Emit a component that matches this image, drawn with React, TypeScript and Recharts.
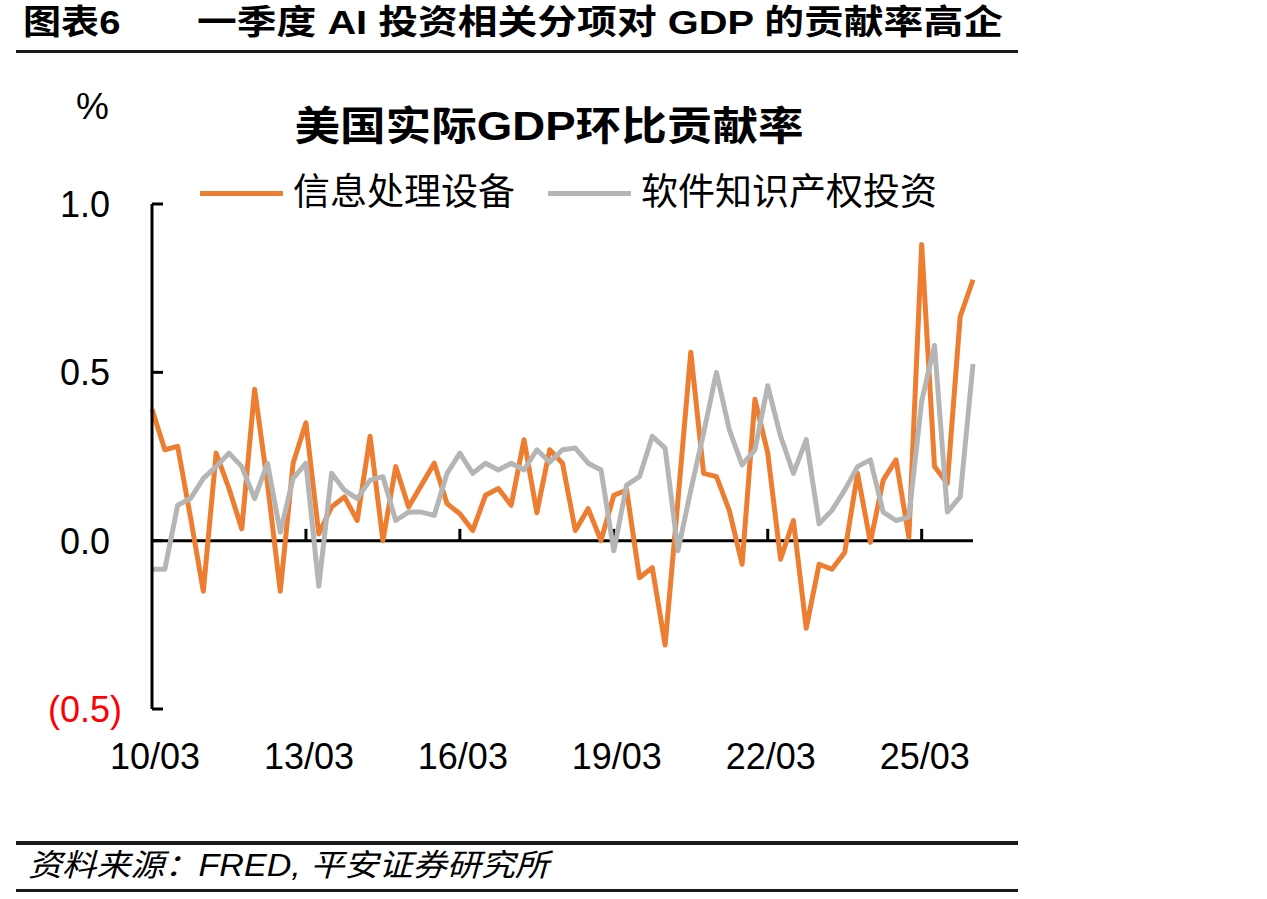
import { LineChart, Line, XAxis, YAxis, ReferenceLine, Legend } from 'recharts'

// quarterly, 2010Q1 .. 2026Q1
const quarters = [
  '10/03', '10/06', '10/09', '10/12', '11/03', '11/06', '11/09', '11/12',
  '12/03', '12/06', '12/09', '12/12', '13/03', '13/06', '13/09', '13/12',
  '14/03', '14/06', '14/09', '14/12', '15/03', '15/06', '15/09', '15/12',
  '16/03', '16/06', '16/09', '16/12', '17/03', '17/06', '17/09', '17/12',
  '18/03', '18/06', '18/09', '18/12', '19/03', '19/06', '19/09', '19/12',
  '20/03', '20/06', '20/09', '20/12', '21/03', '21/06', '21/09', '21/12',
  '22/03', '22/06', '22/09', '22/12', '23/03', '23/06', '23/09', '23/12',
  '24/03', '24/06', '24/09', '24/12', '25/03', '25/06', '25/09', '25/12',
  '26/03',
]

const infoEquipment = [
  0.39, 0.27, 0.28, 0.07, -0.15, 0.26, 0.155, 0.035,
  0.45, 0.17, -0.15, 0.23, 0.35, 0.02, 0.1, 0.13,
  0.06, 0.31, 0.0, 0.22, 0.1, 0.165, 0.23, 0.11,
  0.08, 0.03, 0.135, 0.155, 0.105, 0.3, 0.083, 0.27,
  0.23, 0.03, 0.095, 0.0, 0.135, 0.15, -0.11, -0.08,
  -0.31, 0.12, 0.56, 0.2, 0.19, 0.09, -0.07, 0.42,
  0.26, -0.055, 0.06, -0.26, -0.07, -0.085, -0.035, 0.2,
  -0.005, 0.18, 0.24, 0.01, 0.88, 0.22, 0.17, 0.665,
  0.775,
]

const softwareIP = [
  -0.085, -0.085, 0.105, 0.125, 0.185, 0.22, 0.26, 0.22,
  0.125, 0.23, 0.025, 0.185, 0.23, -0.135, 0.2, 0.15,
  0.125, 0.18, 0.19, 0.06, 0.085, 0.085, 0.075, 0.2,
  0.26, 0.2, 0.23, 0.21, 0.23, 0.21, 0.27, 0.233,
  0.27, 0.275, 0.23, 0.21, -0.03, 0.165, 0.19, 0.31,
  0.275, -0.03, 0.15, 0.32, 0.5, 0.33, 0.225, 0.27,
  0.46, 0.31, 0.2, 0.3, 0.05, 0.09, 0.15, 0.22,
  0.24, 0.085, 0.06, 0.07, 0.415, 0.58, 0.085, 0.13,
  0.525,
]

const yTicks = [-0.5, 0, 0.5, 1.0]
const xTickMarks = ['13/03', '16/03', '19/03', '22/03', '25/03']
const seriesNames = ['信息处理设备', '软件知识产权投资']
const seriesColors = ['#ED7D31', '#B5B5B5']

const figureLabel = '图表6'
const figureTitle = '一季度 AI 投资相关分项对 GDP 的贡献率高企'
const chartTitle = '美国实际GDP环比贡献率'
const unitLabel = '%'
const sourceNote = '资料来源：FRED, 平安证券研究所'

const FONT = "'Liberation Sans', 'Noto Sans CJK SC', sans-serif"

const data = quarters.map((q, i) => ({
  q,
  info: infoEquipment[i],
  soft: softwareIP[i],
}))

function YTick({ x, y, payload }: any) {
  const v = payload.value as number
  const neg = v < 0
  return (
    <g>
      <line x1={x} y1={y} x2={x + 11} y2={y} stroke="#000" strokeWidth={3} />
      <text
        x={neg ? x - 30 : x - 42}
        y={y}
        dy={13}
        textAnchor="end"
        fill={neg ? '#FF0000' : '#000'}
        fontSize={36}
        fontFamily={FONT}
      >
        {neg ? `(${Math.abs(v).toFixed(1)})` : v.toFixed(1)}
      </text>
    </g>
  )
}

function XTick({ x, y, payload }: any) {
  return (
    <text x={x + 3} y={y} dy={60} textAnchor="middle" fill="#000" fontSize={36} fontFamily={FONT}>
      {payload.value}
    </text>
  )
}

function LegendContent() {
  return (
    <div style={{ display: 'flex', alignItems: 'center', fontFamily: FONT, fontSize: 37, lineHeight: '42px' }}>
      {seriesNames.map((name, i) => (
        <div key={name} style={{ display: 'flex', alignItems: 'center', marginRight: 33 }}>
          <div style={{ width: 83, height: 5, background: seriesColors[i] }} />
          <span style={{ marginLeft: 10, whiteSpace: 'nowrap' }}>{name}</span>
        </div>
      ))}
    </div>
  )
}

const rule = (top: number, h: number) => (
  <div style={{ position: 'absolute', left: 16, width: 1002, top, height: h, background: '#1a1a1a' }} />
)

export default function App() {
  return (
    <div style={{ position: 'absolute', left: 0, top: 0, width: 1267, height: 899, background: '#fff', fontFamily: FONT, color: '#000' }}>
      <div style={{ position: 'absolute', left: 23, top: 2, fontSize: 34, fontWeight: 700, lineHeight: '40px', whiteSpace: 'nowrap', transform: 'scaleX(1.12)', transformOrigin: 'left center' }}>
        {figureLabel}
      </div>
      <div style={{ position: 'absolute', left: 197, top: 2, fontSize: 34, fontWeight: 700, lineHeight: '40px', whiteSpace: 'nowrap', transform: 'scaleX(1.17)', transformOrigin: 'left center' }}>
        {figureTitle}
      </div>
      {rule(50, 3)}

      <div style={{ position: 'absolute', left: 76, top: 86, fontSize: 37, lineHeight: '42px' }}>{unitLabel}</div>
      <div style={{ position: 'absolute', left: 549, top: 102, fontSize: 40, fontWeight: 700, lineHeight: '48px', whiteSpace: 'nowrap', transform: 'translateX(-50%) scaleX(1.14)', transformOrigin: 'center center' }}>
        {chartTitle}
      </div>

      <div style={{ position: 'absolute', left: 0, top: 0 }}>
        <LineChart width={1000} height={800} data={data} margin={{ top: 204, right: 27, bottom: 31, left: 0 }}>
          <XAxis
            dataKey="q"
            interval={11}
            tickSize={0}
            tickMargin={0}
            axisLine={false}
            tickLine={false}
            height={60}
            tick={<XTick />}
          />
          <YAxis
            domain={[-0.5, 1]}
            ticks={yTicks}
            width={152}
            tickSize={0}
            tickMargin={0}
            tickLine={false}
            axisLine={{ stroke: '#000', strokeWidth: 3 }}
            tick={<YTick />}
            allowDataOverflow
          />
          <ReferenceLine y={0} stroke="#000" strokeWidth={3} />
          {xTickMarks.map((t) => (
            <ReferenceLine
              key={t}
              segment={[{ x: t, y: 0 }, { x: t, y: 0.035 }]}
              stroke="#000"
              strokeWidth={3}
            />
          ))}
          <Legend
            verticalAlign="middle"
            align="center"
            content={<LegendContent />}
            wrapperStyle={{ position: 'absolute', left: 200, top: 172, width: 800, height: 42 }}
          />
          <Line
            dataKey="info"
            name={seriesNames[0]}
            stroke={seriesColors[0]}
            strokeWidth={5}
            strokeLinejoin="round"
            dot={false}
            isAnimationActive={false}
          />
          <Line
            dataKey="soft"
            name={seriesNames[1]}
            stroke={seriesColors[1]}
            strokeWidth={5}
            strokeLinejoin="round"
            dot={false}
            isAnimationActive={false}
          />
        </LineChart>
      </div>

      {rule(841, 4)}
      <div style={{ position: 'absolute', left: 28, top: 847, fontSize: 31, fontStyle: 'italic', lineHeight: '38px', whiteSpace: 'nowrap', transform: 'scaleX(1.1)', transformOrigin: 'left center' }}>
        {sourceNote}
      </div>
      {rule(889, 3)}
    </div>
  )
}
